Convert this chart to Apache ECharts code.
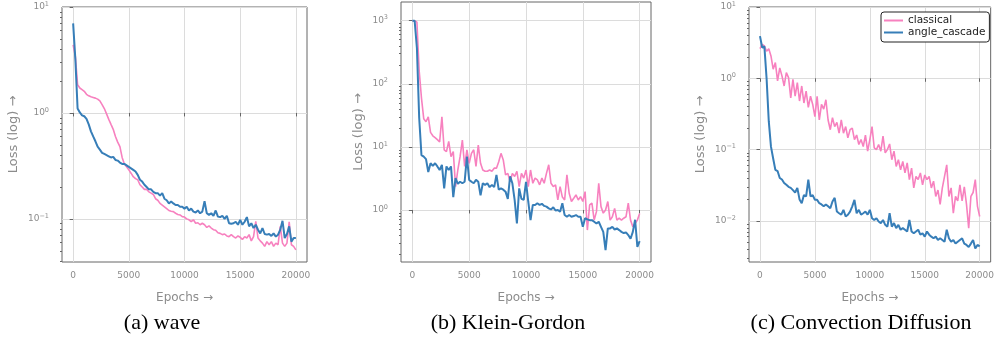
<!DOCTYPE html>
<html>
<head>
<meta charset="UTF-8">
<title>Loss curves: wave / Klein-Gordon / Convection Diffusion</title>
<script src="https://cdn.jsdelivr.net/npm/echarts@6/dist/echarts.min.js"></script>
<style>
  html, body { margin: 0; padding: 0; background: #fff; }
  #chart { width: 997px; height: 343px; }
</style>
</head>
<body>
<div id="chart"></div>
<script>
// epochs, sampled every 200
const epochs = [
  0, 200, 400, 600, 800, 1000, 1200, 1400, 1600, 1800,
  2000, 2200, 2400, 2600, 2800, 3000, 3200, 3400, 3600, 3800,
  4000, 4200, 4400, 4600, 4800, 5000, 5200, 5400, 5600, 5800,
  6000, 6200, 6400, 6600, 6800, 7000, 7200, 7400, 7600, 7800,
  8000, 8200, 8400, 8600, 8800, 9000, 9200, 9400, 9600, 9800,
  10000, 10200, 10400, 10600, 10800, 11000, 11200, 11400, 11600, 11800,
  12000, 12200, 12400, 12600, 12800, 13000, 13200, 13400, 13600, 13800,
  14000, 14200, 14400, 14600, 14800, 15000, 15200, 15400, 15600, 15800,
  16000, 16200, 16400, 16600, 16800, 17000, 17200, 17400, 17600, 17800,
  18000, 18200, 18400, 18600, 18800, 19000, 19200, 19400, 19600, 19800, 20000
];

// (a) wave
const waveClassical = [
  4.4, 3.4, 1.85, 1.72, 1.66, 1.6, 1.5, 1.45, 1.42, 1.4,
  1.38, 1.35, 1.3, 1.2, 1.1, 0.98, 0.87, 0.78, 0.7, 0.6,
  0.53, 0.48, 0.38, 0.33, 0.31, 0.29, 0.27, 0.25, 0.24, 0.234,
  0.21, 0.2, 0.19, 0.19, 0.18, 0.175, 0.17, 0.155, 0.15, 0.14,
  0.135, 0.13, 0.125, 0.12, 0.118, 0.117, 0.113, 0.11, 0.109, 0.105,
  0.104, 0.1, 0.098, 0.094, 0.098, 0.091, 0.092, 0.088, 0.091, 0.088,
  0.083, 0.086, 0.082, 0.079, 0.078, 0.074, 0.073, 0.071, 0.072, 0.069,
  0.068, 0.071, 0.068, 0.066, 0.069, 0.067, 0.064, 0.068, 0.066, 0.071,
  0.062, 0.068, 0.095, 0.066, 0.062, 0.059, 0.055, 0.061, 0.057, 0.061,
  0.055, 0.059, 0.057, 0.085, 0.059, 0.055, 0.059, 0.094, 0.057, 0.055, 0.051
];
const waveAngle = [
  7.0, 3.2, 1.1, 1.01, 0.95, 0.93, 0.88, 0.78, 0.67, 0.6,
  0.54, 0.48, 0.45, 0.42, 0.41, 0.4, 0.39, 0.38, 0.385, 0.36,
  0.355, 0.34, 0.33, 0.33, 0.32, 0.31, 0.3, 0.29, 0.28, 0.26,
  0.234, 0.225, 0.21, 0.2, 0.19, 0.19, 0.18, 0.175, 0.175, 0.166,
  0.175, 0.155, 0.15, 0.14, 0.146, 0.14, 0.135, 0.135, 0.13, 0.13,
  0.125, 0.13, 0.12, 0.125, 0.117, 0.115, 0.12, 0.113, 0.117, 0.147,
  0.113, 0.109, 0.113, 0.107, 0.12, 0.105, 0.104, 0.107, 0.1, 0.107,
  0.091, 0.09, 0.091, 0.094, 0.088, 0.098, 0.088, 0.094, 0.104, 0.085,
  0.091, 0.082, 0.088, 0.079, 0.073, 0.082, 0.072, 0.071, 0.072, 0.069,
  0.073, 0.068, 0.071, 0.079, 0.096, 0.066, 0.072, 0.085, 0.061, 0.066, 0.066
];

// (b) Klein-Gordon
const kgClassical = [
  1000, 1000, 950, 160, 60, 28, 25, 30, 17, 15,
  14, 13, 12, 30, 9, 8.4, 12.2, 7.0, 8.4, 2.35,
  4.3, 7.0, 12.8, 4.9, 9.0, 5.5, 7.9, 9.0, 4.9, 10.7,
  5.5, 4.3, 4.1, 4.1, 4.3, 4.1, 4.6, 4.6, 5.8, 7.9,
  6.2, 3.6, 3.8, 2.8, 3.8, 3.4, 4.1, 2.35, 3.8, 3.2,
  4.3, 2.35, 4.3, 2.65, 3.2, 3.0, 2.5, 3.2, 2.65, 3.8,
  5.2, 2.65, 2.35, 2.5, 1.44, 2.35, 1.6, 1.44, 3.6, 1.84,
  1.36, 1.53, 1.73, 1.44, 1.63, 1.36, 1.95, 0.48, 1.2, 1.28,
  0.69, 0.94, 2.65, 1.13, 0.89, 1.0, 1.36, 0.69, 0.78, 1.06,
  0.69, 0.74, 0.69, 0.74, 0.78, 1.28, 0.69, 0.54, 0.61, 0.69, 0.88
];
const kgAngle = [
  1000, 1000, 370, 29, 7.4, 7.0, 6.4, 4.0, 5.5, 5.0,
  5.5, 4.9, 4.3, 5.2, 2.2, 4.9, 4.3, 4.9, 1.6, 3.2,
  2.6, 2.8, 2.65, 2.8, 7.0, 3.0, 2.8, 2.65, 3.0, 2.8,
  1.7, 2.65, 2.5, 2.65, 2.3, 2.5, 2.3, 3.6, 2.1, 2.2,
  2.1, 1.95, 1.5, 3.4, 2.65, 1.45, 0.61, 2.2, 1.5, 1.45,
  2.8, 1.35, 0.69, 1.2, 1.2, 1.28, 1.2, 1.25, 1.16, 1.13,
  1.06, 1.02, 1.1, 0.98, 1.0, 0.94, 1.28, 0.83, 0.78, 0.83,
  0.78, 0.8, 0.83, 0.78, 0.78, 0.54, 0.74, 0.71, 0.69, 0.69,
  0.65, 0.61, 0.65, 0.54, 0.45, 0.23, 0.51, 0.51, 0.54, 0.49,
  0.51, 0.48, 0.45, 0.43, 0.44, 0.40, 0.35, 0.45, 0.7, 0.26, 0.32
];

// (c) Convection Diffusion
const cdClassical = [
  2.6, 3.0, 2.85, 2.4, 2.6, 2.06, 1.34, 1.66, 0.92, 1.4,
  1.08, 0.78, 1.2, 1.02, 0.53, 0.97, 0.56, 0.87, 0.48, 0.78,
  0.45, 0.66, 0.39, 0.56, 0.43, 0.29, 0.56, 0.26, 0.43, 0.37,
  0.5, 0.26, 0.19, 0.28, 0.21, 0.24, 0.17, 0.26, 0.17, 0.21,
  0.146, 0.19, 0.2, 0.138, 0.16, 0.118, 0.138, 0.11, 0.16, 0.095,
  0.138, 0.21, 0.106, 0.1, 0.118, 0.095, 0.154, 0.09, 0.1, 0.12,
  0.072, 0.095, 0.058, 0.072, 0.052, 0.068, 0.047, 0.065, 0.038, 0.055,
  0.029, 0.042, 0.038, 0.047, 0.032, 0.044, 0.038, 0.042, 0.029, 0.036,
  0.022, 0.027, 0.017, 0.029, 0.042, 0.061, 0.022, 0.029, 0.0128, 0.022,
  0.019, 0.032, 0.019, 0.03, 0.017, 0.0079, 0.022, 0.025, 0.038, 0.016, 0.0115
];
const cdAngle = [
  3.9, 2.7, 2.8, 1.0, 0.25, 0.11, 0.075, 0.052, 0.05, 0.04,
  0.038, 0.034, 0.032, 0.03, 0.029, 0.027, 0.025, 0.029, 0.02, 0.0177,
  0.023, 0.022, 0.038, 0.022, 0.023, 0.0197, 0.0197, 0.0177, 0.017, 0.016,
  0.017, 0.016, 0.015, 0.0187, 0.021, 0.0135, 0.0128, 0.0122, 0.0143, 0.0115,
  0.0122, 0.0135, 0.016, 0.0197, 0.0128, 0.0143, 0.0122, 0.0128, 0.0135, 0.0122,
  0.0143, 0.0109, 0.0103, 0.0109, 0.0098, 0.0093, 0.0103, 0.0088, 0.0083, 0.0128,
  0.0083, 0.0093, 0.0079, 0.0088, 0.0075, 0.0079, 0.0075, 0.0071, 0.0103, 0.0071,
  0.0067, 0.0071, 0.0075, 0.0064, 0.0067, 0.006, 0.0071, 0.0064, 0.006, 0.0057,
  0.006, 0.0054, 0.0057, 0.0054, 0.0051, 0.0075, 0.0057, 0.0051, 0.0054, 0.0048,
  0.0051, 0.0054, 0.0057, 0.0048, 0.0046, 0.0043, 0.0048, 0.0054, 0.0041, 0.0046, 0.0044
];

const xTicks = [0, 5000, 10000, 15000, 20000];
const seriesNames = ['classical', 'angle_cascade'];
const captions = ['(a) wave', '(b) Klein-Gordon', '(c) Convection Diffusion'];

const PINK = '#f781bf';
const BLUE = '#377eb8';
const GRAY = '#8c8c8c';
const FRAME = '#666666';

// layout per panel (y range in log10 units)
const panels = [
  { left: 62, top: 7, width: 245, height: 255, ymin: -1.407, ymax: 1, decades: [-1, 0, 1], nameGap: 42, capX: 162,
    pink: waveClassical, blue: waveAngle },
  { left: 401, top: 2, width: 250, height: 260, ymin: -0.825, ymax: 3.297, decades: [0, 1, 2, 3], nameGap: 36, capX: 508,
    pink: kgClassical, blue: kgAngle },
  { left: 749, top: 7, width: 246, height: 255, ymin: -2.577, ymax: 1, decades: [-2, -1, 0, 1], nameGap: 42, capX: 861,
    pink: cdClassical, blue: cdAngle }
];

// log minor tick positions (2..9 x 10^k) inside the range
function minorTicks(p) {
  const out = [];
  for (let d = Math.floor(p.ymin); d <= Math.ceil(p.ymax); d++) {
    for (let k = 2; k <= 9; k++) {
      const v = d + Math.log10(k);
      if (v >= p.ymin && v <= p.ymax) out.push(v);
    }
  }
  return out;
}

function toPairs(vals) {
  return vals.map((v, i) => [epochs[i], Math.log10(v)]);
}

const grids = [], xAxes = [], yAxes = [], minorAxes = [], series = [], graphics = [];

panels.forEach((p, i) => {
  grids.push({
    left: p.left, top: p.top, width: p.width, height: p.height,
    show: true, borderColor: FRAME, borderWidth: 1, backgroundColor: 'transparent'
  });
  xAxes.push({
    type: 'value', gridIndex: i, min: -1000, max: 21000,
    name: 'Epochs →', nameLocation: 'middle', nameGap: 30,
    nameTextStyle: { color: GRAY, fontSize: 12 },
    axisLine: { show: false },
    axisTick: { show: true, length: 3.5, customValues: xTicks, lineStyle: { color: FRAME } },
    axisLabel: { customValues: xTicks, color: GRAY, fontSize: 9, margin: 9, formatter: v => String(v) },
    splitLine: { show: true, lineStyle: { color: '#dcdcdc', width: 1 } }
  });
  yAxes.push({
    type: 'value', gridIndex: i, min: p.ymin, max: p.ymax, position: 'left',
    name: 'Loss (log) →', nameLocation: 'middle', nameGap: p.nameGap, nameRotate: 90,
    nameTextStyle: { color: GRAY, fontSize: 13 },
    axisLine: { show: false },
    axisTick: { show: true, length: 3.5, customValues: p.decades, lineStyle: { color: FRAME } },
    axisLabel: {
      customValues: p.decades, margin: 13,
      formatter: v => '{b|10}{s|' + String(Math.round(v)).replace('-', '\u2212') + '}',
      rich: {
        b: { color: GRAY, fontSize: 9 },
        s: { color: GRAY, fontSize: 6.5, padding: [0, 0, 6, 0] }
      }
    },
    splitLine: { show: true, lineStyle: { color: '#dcdcdc', width: 1 } }
  });
  minorAxes.push({
    type: 'value', gridIndex: i, min: p.ymin, max: p.ymax, position: 'left',
    axisLine: { show: false }, axisLabel: { show: false }, splitLine: { show: false },
    axisTick: { show: true, length: 2, customValues: minorTicks(p), lineStyle: { color: FRAME } }
  });
  series.push({
    type: 'line', name: seriesNames[0], xAxisIndex: i, yAxisIndex: i,
    data: toPairs(p.pink), symbol: 'none', showSymbol: false,
    lineStyle: { color: PINK, width: 1.6 }, itemStyle: { color: PINK }
  });
  series.push({
    type: 'line', name: seriesNames[1], xAxisIndex: i, yAxisIndex: i,
    data: toPairs(p.blue), symbol: 'none', showSymbol: false,
    lineStyle: { color: BLUE, width: 2 }, itemStyle: { color: BLUE }
  });
  graphics.push({
    type: 'text', x: p.capX, y: 323,
    style: {
      text: captions[i], fill: '#000', font: '22px "Liberation Serif", serif',
      align: 'center', verticalAlign: 'middle'
    }
  });
});

const chart = echarts.init(document.getElementById('chart'));
chart.setOption({
  animation: false,
  textStyle: { fontFamily: 'DejaVu Sans' },
  grid: grids,
  xAxis: xAxes,
  yAxis: yAxes.concat(minorAxes),
  series: series,
  legend: {
    data: seriesNames, orient: 'vertical', left: 881, top: 12,
    icon: 'rect', itemWidth: 19, itemHeight: 2, itemGap: 1, padding: [3, 4, 4, 3],
    borderColor: '#222', borderWidth: 1, borderRadius: 3, backgroundColor: '#fff',
    textStyle: { fontSize: 10.5, color: '#222' }
  },
  graphic: graphics
});
</script>
</body>
</html>
